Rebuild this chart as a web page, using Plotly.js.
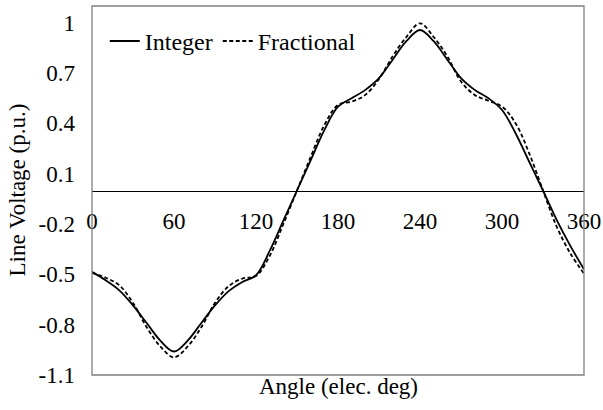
<!DOCTYPE html>
<html>
<head>
<meta charset="utf-8">
<script src="https://cdn.plot.ly/plotly-3.0.1.min.js"></script>
<style>html,body{margin:0;padding:0;background:#fff;}#chart{width:603px;height:410px;}</style>
</head>
<body>
<div id="chart"></div>
<script>
var angle = [0,10,20,30,40,50,60,70,80,90,100,110,120,130,140,150,160,170,180,
             190,200,210,220,230,240,250,260,270,280,290,300,310,320,330,340,350,360];
var integerV = [-0.485,-0.535,-0.595,-0.685,-0.79,-0.895,-0.96,-0.895,-0.79,-0.685,-0.6,-0.545,-0.505,
                -0.36,-0.18,0,0.18,0.36,0.5,0.55,0.6,0.67,0.78,0.89,0.957,0.89,0.78,0.67,0.6,0.55,
                0.48,0.34,0.17,0,-0.175,-0.33,-0.47];
var fractionalV = [-0.49,-0.52,-0.565,-0.67,-0.815,-0.93,-0.995,-0.93,-0.815,-0.67,-0.57,-0.525,-0.51,
                   -0.39,-0.2,0,0.2,0.39,0.51,0.53,0.57,0.665,0.8,0.915,0.997,0.915,0.8,0.65,0.57,0.535,
                   0.5,0.4,0.22,0,-0.215,-0.375,-0.495];
var xTicks = [0,60,120,180,240,300,360];
var yTicks = [-1.1,-0.8,-0.5,-0.2,0.1,0.4,0.7,1];
var yTickText = ["-1.1","-0.8","-0.5","-0.2","0.1","0.4","0.7","1"];

var FONT = "Liberation Serif, Times New Roman, serif";

var traces = [
  {x: angle, y: integerV, name: "Integer", mode: "lines",
   line: {color: "#000", width: 1.8, shape: "spline", smoothing: 1}},
  {x: angle, y: fractionalV, name: "Fractional", mode: "lines",
   line: {color: "#000", width: 1.8, dash: "4px,2.5px", shape: "spline", smoothing: 1}}
];

var layout = {
  width: 603, height: 410,
  margin: {l: 92, r: 19, t: 6, b: 35},
  paper_bgcolor: "#fff", plot_bgcolor: "#fff",
  font: {family: FONT, size: 23, color: "#000"},
  showlegend: true,
  legend: {orientation: "h", x: 0.026, y: 0.965, xanchor: "left", yanchor: "top",
           bgcolor: "rgba(0,0,0,0)", font: {family: FONT, size: 24, color: "#000"},
           itemwidth: 30, tracegroupgap: 0},
  xaxis: {range: [0, 360], tickvals: xTicks, ticktext: xTicks.map(String),
          anchor: "free", position: 0.5, showline: true, linecolor: "#000", linewidth: 1,
          showgrid: false, zeroline: false, ticks: "", ticklabelstandoff: 10,
          tickfont: {family: FONT, size: 23, color: "#000"}, fixedrange: true},
  yaxis: {range: [-1.1, 1.1], tickvals: yTicks, ticktext: yTickText,
          showline: false, showgrid: false, zeroline: false, ticks: "",
          ticklabelstandoff: 16,
          tickfont: {family: FONT, size: 23, color: "#000"}, fixedrange: true},
  shapes: [
    {type: "rect", xref: "paper", yref: "paper", x0: 0, x1: 1, y0: 0, y1: 1,
     line: {color: "#7f7f7f", width: 1.3}, fillcolor: "rgba(0,0,0,0)", layer: "above"}
  ],
  annotations: [
    {text: "Angle (elec. deg)", xref: "paper", yref: "paper", x: 0.5, y: 0,
     xanchor: "center", yanchor: "middle", yshift: -11, showarrow: false,
     font: {family: FONT, size: 23, color: "#000"}},
    {text: "Line Voltage (p.u.)", xref: "paper", yref: "paper", x: 0, y: 0.5,
     xanchor: "center", yanchor: "middle", xshift: -75, textangle: -90, showarrow: false,
     font: {family: FONT, size: 23, color: "#000"}}
  ]
};

Plotly.newPlot("chart", traces, layout, {displayModeBar: false, staticPlot: true});
</script>
</body>
</html>
